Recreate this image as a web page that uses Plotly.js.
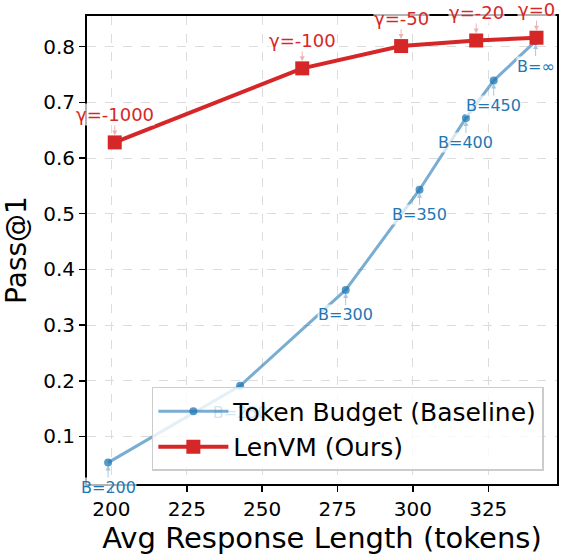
<!DOCTYPE html>
<html>
<head>
<meta charset="utf-8">
<script src="https://cdn.plot.ly/plotly-3.0.1.min.js"></script>
<style>html,body{margin:0;padding:0;background:#fff;}#chart{width:561px;height:559px;}</style>
</head>
<body>
<div id="chart"></div>
<script>
// Token Budget (Baseline)
var budgetLen = [198.9, 242.7, 277.7, 302.2, 317.6, 326.8, 340.7];
var budgetAcc = [0.053, 0.191, 0.363, 0.543, 0.672, 0.739, 0.810];
var budgetLabels = ['B=200', 'B=250', 'B=300', 'B=350', 'B=400', 'B=450', 'B=∞'];
// LenVM (Ours)
var lenvmLen = [201.1, 263.3, 296.1, 321.0, 341.0];
var lenvmAcc = [0.628, 0.761, 0.801, 0.811, 0.816];
var lenvmLabels = ['γ=-1000', 'γ=-100', 'γ=-50', 'γ=-20', 'γ=0'];

var xTicks = [200, 225, 250, 275, 300, 325];
var yTicks = [0.1, 0.2, 0.3, 0.4, 0.5, 0.6, 0.7, 0.8];

// label that sits underneath the legend (drawn as a trace so the legend covers it)
var hiddenLabelIndex = 1;

var FONT = 'DejaVu Sans, Verdana, sans-serif';
var BLUE = '#1f77b4';
var RED = '#d62728';

var traces = [
  {
    x: [budgetLen[hiddenLabelIndex]], y: [budgetAcc[hiddenLabelIndex]],
    text: [budgetLabels[hiddenLabelIndex]], mode: 'text+markers', type: 'scatter',
    textposition: 'bottom center', showlegend: false, hoverinfo: 'skip',
    marker: {size: 30, opacity: 0, color: BLUE},
    textfont: {family: FONT, size: 16, color: BLUE},
    cliponaxis: false
  },
  {
    x: budgetLen, y: budgetAcc, name: 'Token Budget (Baseline)',
    mode: 'lines+markers', type: 'scatter',
    line: {color: 'rgba(31,119,180,0.6)', width: 3},
    marker: {symbol: 'circle', size: 8, color: 'rgba(31,119,180,0.75)'},
    cliponaxis: false
  },
  {
    x: lenvmLen, y: lenvmAcc, name: 'LenVM (Ours)',
    mode: 'lines+markers', type: 'scatter',
    line: {color: RED, width: 4},
    marker: {symbol: 'square', size: 14, color: RED},
    cliponaxis: false
  }
];

var annotations = [];
budgetLabels.forEach(function (t, i) {
  if (i === hiddenLabelIndex) return;
  annotations.push({
    x: budgetLen[i], y: budgetAcc[i], xref: 'x', yref: 'y',
    text: t, showarrow: true, ax: 0, ay: 25,
    arrowhead: 2, arrowsize: 1, arrowwidth: 1, standoff: 3,
    arrowcolor: 'rgba(31,119,180,0.4)',
    bgcolor: 'rgba(255,255,255,0.7)', borderpad: 0,
    font: {family: FONT, size: 16, color: BLUE}
  });
});
lenvmLabels.forEach(function (t, i) {
  annotations.push({
    x: lenvmLen[i], y: lenvmAcc[i], xref: 'x', yref: 'y',
    text: t, showarrow: true, ax: 0, ay: -28,
    arrowhead: 2, arrowsize: 1, arrowwidth: 1, standoff: 7,
    arrowcolor: 'rgba(214,39,40,0.35)',
    bgcolor: 'rgba(255,255,255,0.7)', borderpad: 0,
    font: {family: FONT, size: 18, color: RED}
  });
});

var axisCommon = {
  showline: true, linecolor: '#000', linewidth: 2, mirror: true,
  ticks: 'outside', ticklen: 6, tickwidth: 1.5, tickcolor: '#000',
  showgrid: true, gridcolor: '#dcdcdc', gridwidth: 1, griddash: 'dash',
  zeroline: false,
  tickfont: {family: FONT, size: 20, color: '#000'}
};

var layout = {
  width: 561, height: 559,
  margin: {l: 87, r: 4, t: 16, b: 75},
  paper_bgcolor: '#fff', plot_bgcolor: '#fff',
  font: {family: FONT, color: '#000'},
  xaxis: Object.assign({}, axisCommon, {
    range: [191.9, 347.8], tickvals: xTicks, ticktext: xTicks.map(String),
    title: {text: 'Avg Response Length (tokens)', font: {family: FONT, size: 29, color: '#000'}, standoff: 6}
  }),
  yaxis: Object.assign({}, axisCommon, {
    range: [0.0146, 0.855], tickvals: yTicks, ticktext: yTicks.map(function (v) { return v.toFixed(1); }),
    title: {text: 'Pass@1', font: {family: FONT, size: 28, color: '#000'}, standoff: 10}
  }),
  showlegend: true,
  legend: {
    x: 0.138, y: 0.028, xanchor: 'left', yanchor: 'bottom',
    bgcolor: 'rgba(255,255,255,0.8)', bordercolor: '#cccccc', borderwidth: 1.5,
    font: {family: FONT, size: 25, color: '#000'},
    itemwidth: 70, tracegroupgap: 0
  },
  annotations: annotations
};

Plotly.newPlot('chart', traces, layout, {displayModeBar: false, staticPlot: true});
</script>
</body>
</html>
